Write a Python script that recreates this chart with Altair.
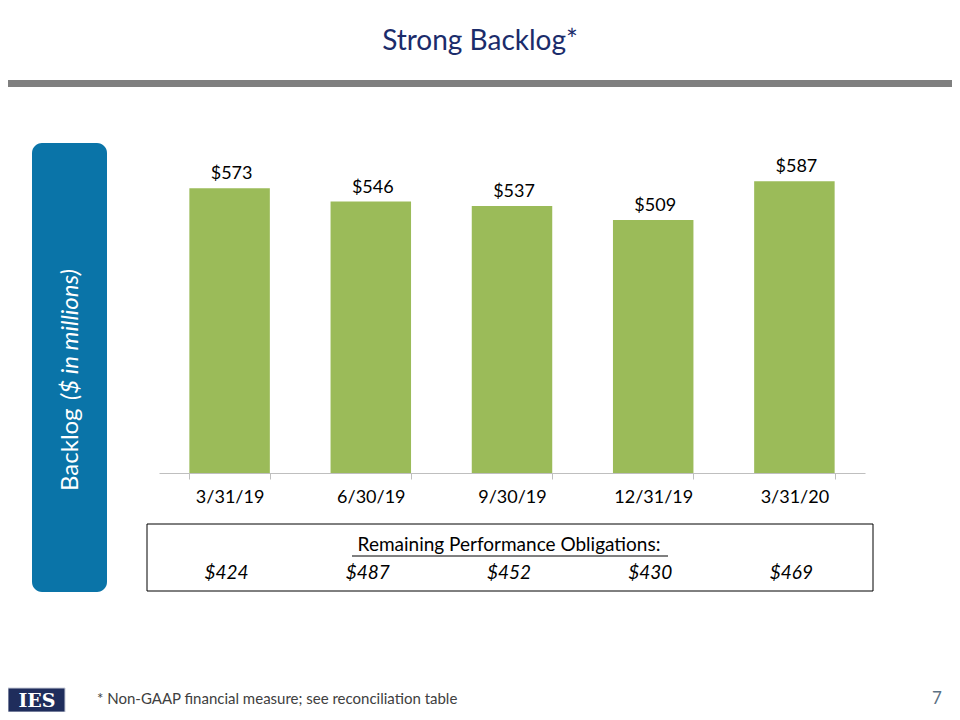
import altair as alt
import pandas as pd

# ---- data ----
categories = ["3/31/19", "6/30/19", "9/30/19", "12/31/19", "3/31/20"]
backlog = [573, 546, 537, 509, 587]
rpo = [424, 487, 452, 430, 469]

df = pd.DataFrame({
    "period": categories,
    "backlog": backlog,
    "backlog_label": ["$" + str(v) for v in backlog],
    "rpo_label": ["$" + str(v) for v in rpo],
})

FONT = "Lato"
W, H = 706, 348

x_enc = alt.X("period:N", sort=categories, title=None,
              scale=alt.Scale(paddingInner=0.43, paddingOuter=0.215),
              axis=alt.Axis(labelAngle=0, labelFontSize=18, labelColor="#000000",
                            labelFont=FONT, labelPadding=9, tickBand="extent",
                            tickSize=6, tickColor="#BFBFBF", domainColor="#BFBFBF",
                            domainWidth=1.2, grid=False))
y_enc = alt.Y("backlog:Q", title=None, axis=None,
              scale=alt.Scale(domain=[0, 700], nice=False, zero=True))

bars = alt.Chart(df).mark_bar(color="#9BBB59").encode(x=x_enc, y=y_enc)

bar_labels = alt.Chart(df).mark_text(
    font=FONT, fontSize=18, color="#000000", baseline="alphabetic", dy=-9, dx=2
).encode(x=alt.X("period:N", sort=categories), y=alt.Y("backlog:Q"), text="backlog_label:N")

one = pd.DataFrame({"k": [0]})

def deco():
    return alt.Chart(one)

# title
title = deco().mark_text(text="Strong Backlog*", font=FONT, fontSize=28, color="#1B2C6B",
                         align="center", baseline="middle").encode(
    x=alt.value(321), y=alt.value(-83))

# gray separator line
sep = deco().mark_rect(color="#7F7F7F").encode(
    x=alt.value(-151), x2=alt.value(793), y=alt.value(-45), y2=alt.value(-38))

# blue side box
side = deco().mark_rect(color="#0A74A8", cornerRadius=10).encode(
    x=alt.value(-127), x2=alt.value(-52), y=alt.value(18), y2=alt.value(467))

ylab1 = deco().mark_text(text="Backlog", font=FONT, fontSize=24, color="#FFFFFF",
                         angle=270, align="left", baseline="middle").encode(
    x=alt.value(-88), y=alt.value(366))
ylab2 = deco().mark_text(text="($ in millions)", font=FONT, fontSize=24, color="#FFFFFF",
                         fontStyle="italic", angle=270, align="left", baseline="middle").encode(
    x=alt.value(-88), y=alt.value(275))

# RPO box
box = deco().mark_rect(fill="#FFFFFF", stroke="#000000", strokeWidth=1).encode(
    x=alt.value(-12), x2=alt.value(714), y=alt.value(399), y2=alt.value(466))
rpo_title = deco().mark_text(text="Remaining Performance Obligations:", font=FONT, fontSize=19,
                             color="#000000", align="center", baseline="middle").encode(
    x=alt.value(350), y=alt.value(420))
underline = deco().mark_rule(color="#000000", strokeWidth=1).encode(
    x=alt.value(193), x2=alt.value(509), y=alt.value(431))
rpo_text = alt.Chart(df).mark_text(font=FONT, fontSize=19, fontStyle="italic", color="#000000",
                                   baseline="middle", dx=-3).encode(
    x=alt.X("period:N", sort=categories), y=alt.value(448), text="rpo_label:N")

# footer
logo = deco().mark_rect(color="#1F2D5C", stroke="#C8CCD8", strokeWidth=1).encode(
    x=alt.value(-151), x2=alt.value(-94), y=alt.value(563), y2=alt.value(587))
logo_text = deco().mark_text(text="IES", font="DejaVu Serif", fontWeight="bold", fontSize=19,
                             color="#FFFFFF", align="center", baseline="middle").encode(
    x=alt.value(-122), y=alt.value(576))
foot = deco().mark_text(text="* Non-GAAP financial measure; see reconciliation table", font=FONT,
                        fontSize=15, color="#404040", align="left", baseline="middle").encode(
    x=alt.value(-62), y=alt.value(574))
page = deco().mark_text(text="7", font=FONT, fontSize=17, color="#5B7083",
                        align="center", baseline="middle").encode(
    x=alt.value(778), y=alt.value(574))

chart = alt.layer(
    sep, title, side, ylab1, ylab2, bars, bar_labels, box, rpo_title, underline, rpo_text,
    logo, logo_text, foot, page
).properties(
    width=W, height=H,
    background="#FFFFFF",
    autosize=alt.AutoSizeParams(type="none"),
    padding={"left": 151, "top": 117, "right": 87, "bottom": 239},
).configure_view(strokeWidth=0, stroke="transparent")

chart.save("out.html", embed_options={"renderer": "svg", "actions": False})
